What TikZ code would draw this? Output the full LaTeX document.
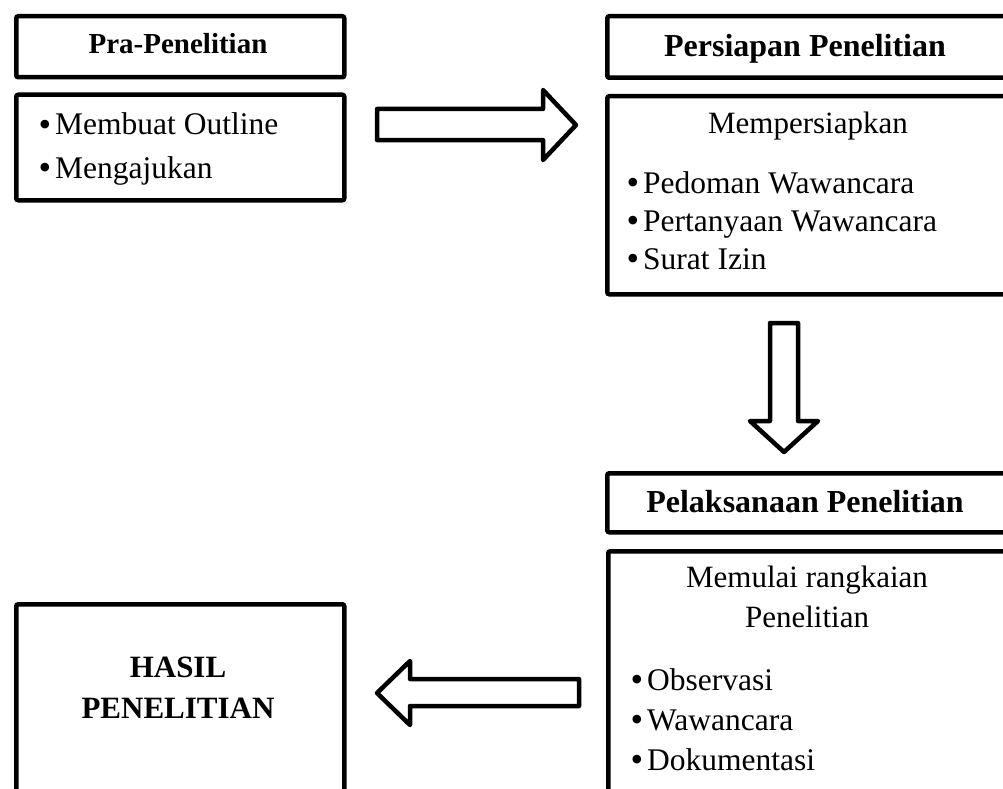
\documentclass[tikz,border=0pt]{standalone}
\usepackage{fontspec}
\setmainfont{Liberation Serif}
\newcommand{\bul}{\llap{\raisebox{-1.5pt}[0pt][0pt]{\fontsize{36}{36}\selectfont\textbullet}\hspace{4pt}}}
\begin{document}
\begin{tikzpicture}[x=1pt,y=-1pt,
  box/.style={draw=black, line width=4.5pt, rounded corners=2pt, inner sep=0pt, anchor=north west},
  blockarrow/.style={draw=black, fill=white, line width=4.5pt, line join=round},
  headtxt/.style={font=\fontsize{32}{38}\selectfont\bfseries, anchor=base, inner sep=0pt},
  bodytxt/.style={font=\fontsize{31}{38}\selectfont, anchor=base, inner sep=0pt},
  itemtxt/.style={font=\fontsize{31.5}{38}\selectfont, anchor=base west, inner sep=0pt}]
\useasboundingbox (0,0) rectangle (1003,789);
\clip (0,0) rectangle (1003,789);
\fill[white] (0,0) rectangle (1003,789);

% boxes
\node[box, minimum width=328pt, minimum height=61pt] (praT) at (14,14) {};
\node[box, minimum width=328pt, minimum height=105.5pt] (praB) at (14,92.5) {};
\node[box, minimum width=403pt, minimum height=61.5pt] (persT) at (605,14) {};
\node[box, minimum width=403pt, minimum height=198pt] (persB) at (605,94) {};
\node[box, minimum width=403pt, minimum height=59pt] (pelT) at (605,471) {};
\node[box, minimum width=403pt, minimum height=260pt] (pelB) at (606,549) {};
\node[box, minimum width=328pt, minimum height=220pt] (hasil) at (14,602) {};

% texts
\node[headtxt, font=\fontsize{29}{34}\selectfont\bfseries] (praTitle) at (178,54) {Pra-Penelitian};
\node[itemtxt] (pra1) at (55,135) {\bul Membuat Outline};
\node[itemtxt] (pra2) at (55,178) {\bul Mengajukan};

\node[headtxt] (persTitle) at (805,57) {Persiapan Penelitian};
\node[bodytxt] (persSub) at (808,133) {Mempersiapkan};
\node[itemtxt] (pers1) at (643,193) {\bul Pedoman Wawancara};
\node[itemtxt] (pers2) at (643,231) {\bul Pertanyaan Wawancara};
\node[itemtxt] (pers3) at (643,269) {\bul Surat Izin};

\node[headtxt] (pelTitle) at (805,512) {Pelaksanaan Penelitian};
\node[bodytxt] (pelSub1) at (807,587) {Memulai rangkaian};
\node[bodytxt] (pelSub2) at (807,627) {Penelitian};
\node[itemtxt] (pel1) at (647,690) {\bul Observasi};
\node[itemtxt] (pel2) at (647,730) {\bul Wawancara};
\node[itemtxt] (pel3) at (647,770) {\bul Dokumentasi};

\node[headtxt, font=\fontsize{31}{38}\selectfont\bfseries] (hasil1) at (178,677) {HASIL};
\node[headtxt, font=\fontsize{31}{38}\selectfont\bfseries] (hasil2) at (178,718) {PENELITIAN};

% block arrows
\draw[blockarrow] (377,109) -- (543,109) -- (543,90) -- (576,125) -- (543,160) -- (543,140) -- (377,140) -- cycle;
\draw[blockarrow] (770,323) -- (798,323) -- (798,421) -- (818,421) -- (784,452) -- (750,421) -- (770,421) -- cycle;
\draw[blockarrow] (377,693) -- (410,661) -- (410,679) -- (579,679) -- (579,706) -- (410,706) -- (410,725) -- cycle;
\end{tikzpicture}
\end{document}
